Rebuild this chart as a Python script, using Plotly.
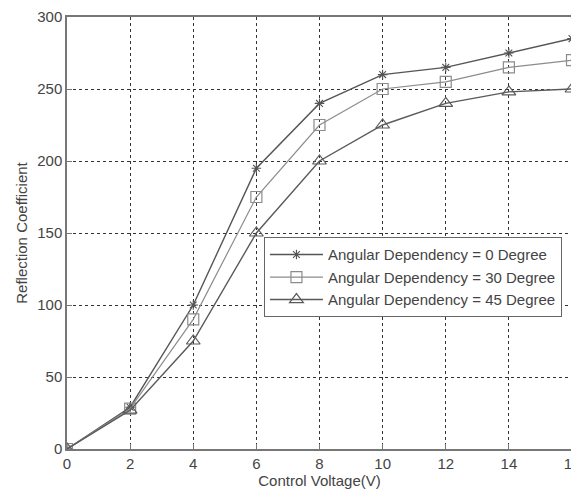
import plotly.graph_objects as go

voltage = [0, 2, 4, 6, 8, 10, 12, 14, 16]
deg0 = [0, 29, 100, 195, 240, 260, 265, 275, 285]
deg30 = [0, 28, 90, 175, 225, 250, 255, 265, 270]
deg45 = [0, 27, 75, 150, 200, 225, 240, 248, 250]
yticks = [0, 50, 100, 150, 200, 250, 300]
names = ["Angular Dependency = 0 Degree",
         "Angular Dependency = 30 Degree",
         "Angular Dependency = 45 Degree"]

FONT = "Liberation Sans, Arial, sans-serif"

fig = go.Figure()
fig.add_trace(go.Scatter(x=voltage, y=deg0, name=names[0], mode="lines+markers",
                         line=dict(color="#555555", width=1.4),
                         marker=dict(symbol="asterisk-open", size=8, color="#555555",
                                     line=dict(color="#555555", width=1.1))))
fig.add_trace(go.Scatter(x=voltage, y=deg30, name=names[1], mode="lines+markers",
                         line=dict(color="#8c8c8c", width=1.2),
                         marker=dict(symbol="square-open", size=11, color="#8c8c8c",
                                     line=dict(color="#8c8c8c", width=1.2))))
fig.add_trace(go.Scatter(x=voltage, y=deg45, name=names[2], mode="lines+markers",
                         line=dict(color="#5a5a5a", width=1.4),
                         marker=dict(symbol="triangle-up-open", size=12, color="#5a5a5a",
                                     line=dict(color="#5a5a5a", width=1.2))))

axis_common = dict(showline=True, linecolor="#777777", linewidth=1.5, mirror=True,
                   showgrid=True, gridcolor="#333333", griddash="3px,3px", gridwidth=1,
                   ticks="inside", ticklen=5, tickcolor="#777777", zeroline=False,
                   ticklabeloverflow="allow",
                   tickfont=dict(family=FONT, size=15, color="#444444"),
                   title_font=dict(family=FONT, size=15, color="#444444"))

fig.update_xaxes(range=[0, 16], tickvals=voltage, title_text="Control Voltage(V)",
                 title_standoff=2, **axis_common)
fig.update_yaxes(range=[0, 300], tickvals=yticks,
                 title_text="Reflection Coefficient", title_standoff=6, **axis_common)

fig.update_layout(
    width=571, height=485,
    margin=dict(l=59, r=7, t=9, b=44, autoexpand=False),
    plot_bgcolor="white", paper_bgcolor="white",
    font=dict(family=FONT, size=15, color="#444444"),
    legend=dict(x=0.39, y=0.49, xanchor="left", yanchor="top",
                bgcolor="white", bordercolor="#666666", borderwidth=1,
                font=dict(family=FONT, size=15, color="#444444"), itemwidth=53),
    showlegend=True,
)

fig.write_html("out.html")
